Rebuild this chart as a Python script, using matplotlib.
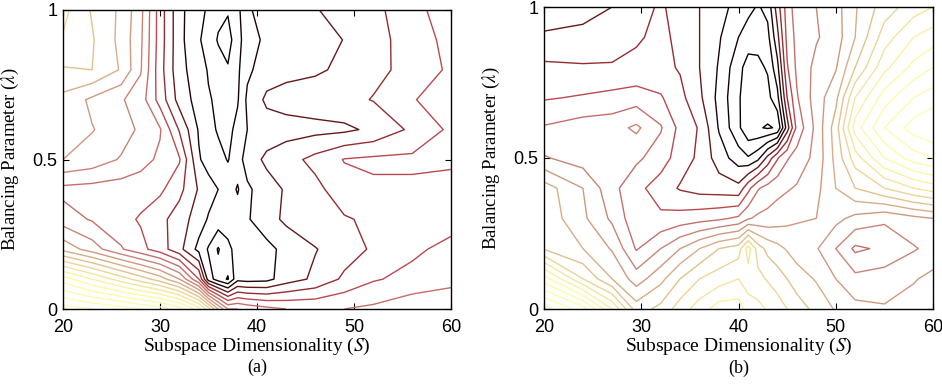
#!/usr/bin/env python3
# -*- coding: utf-8 -*-
"""
Contour maps of accuracy over subspace dimensionality S and balancing parameter lambda.
"""

import numpy as np
import matplotlib
matplotlib.use("Agg")
import matplotlib.pyplot as plt
from matplotlib.colors import LinearSegmentedColormap

plt.rcParams["font.family"] = "Liberation Sans"
plt.rcParams["mathtext.fontset"] = "stix"

# lambda grid (rows) shared by both panels
LAMBDA = [0.0, 0.1, 0.2, 0.3, 0.4, 0.5, 0.6, 0.7, 0.8, 0.9, 1.0]

# ---- panel (a) ----
S_A = [20, 23, 26, 28, 30, 32, 34, 35, 36, 37, 38, 39, 41, 43, 46, 49, 52, 56, 60]
Z_A = [
    [0.0, 0.5, 1.0, 1.5, 2.0, 3.0, 5.0, 7.0, 9.5, 11.5, 11.5, 11.8, 12.2, 12.5, 12.6, 12.5, 12.3, 11.8, 11.5],
    [4.0, 5.5, 7.0, 8.0, 9.0, 10.5, 13.5, 17.0, 18.0, 18.6, 16.8, 16.9, 16.8, 16.0, 15.3, 14.3, 13.6, 13.2, 12.9],
    [9.8, 11.0, 12.4, 13.2, 14.0, 15.2, 16.8, 17.6, 18.6, 17.7, 17.2, 17.2, 16.8, 16.2, 15.55, 15.0, 14.35, 13.7, 13.2],
    [12.0, 12.6, 13.2, 13.6, 14.2, 15.0, 16.0, 16.6, 16.9, 17.1, 17.0, 16.6, 15.9, 15.3, 14.9, 14.6, 14.3, 14.1, 13.9],
    [12.8, 12.9, 13.0, 13.1, 13.3, 14.2, 15.6, 16.1, 16.5, 17.0, 17.6, 16.7, 15.9, 15.4, 14.8, 13.9, 13.7, 13.7, 13.7],
    [10.5, 10.9, 11.6, 12.1, 12.7, 13.4, 16.4, 16.9, 17.2, 17.55, 17.0, 16.0, 15.3, 14.9, 14.2, 13.45, 13.3, 13.3, 13.4],
    [10.0, 10.45, 11.0, 11.7, 12.4, 14.6, 16.6, 17.2, 17.6, 17.8, 17.2, 16.5, 16.0, 15.9, 15.8, 15.7, 15.3, 14.3, 13.3],
    [9.8, 10.7, 11.4, 12.0, 13.9, 15.9, 16.9, 17.4, 17.7, 18.0, 17.6, 16.3, 15.3, 15.1, 14.95, 14.8, 14.45, 13.55, 13.1],
    [8.6, 8.5, 9.6, 11.4, 14.1, 16.2, 17.0, 17.6, 18.0, 18.4, 17.7, 16.7, 16.0, 15.8, 15.65, 15.3, 14.75, 14.2, 13.3],
    [7.6, 8.4, 9.8, 11.3, 14.0, 16.2, 17.4, 17.9, 18.6, 18.9, 17.9, 16.9, 16.3, 16.0, 15.8, 15.48, 14.9, 14.0, 13.2],
    [7.2, 8.6, 9.7, 11.2, 14.0, 16.2, 17.3, 17.6, 18.2, 18.4, 17.8, 16.6, 16.2, 15.9, 15.55, 15.2, 14.8, 13.8, 13.0],
]

# ---- panel (b) ----
S_B = [20, 24, 27, 29.5, 32, 34, 36, 38, 40, 41, 42, 43, 44, 45, 46, 48, 50, 52, 55, 58, 60]
Z_B = [
    [0.0, 2.0, 5.5, 9.0, 8.2, 7.0, 6.0, 5.0, 5.0, 6.0, 6.2, 6.6, 7.0, 7.5, 8.0, 8.8, 9.6, 10.2, 10.4, 10.0, 9.6],
    [4.0, 7.5, 9.5, 11.0, 9.8, 8.5, 7.5, 7.0, 6.5, 7.0, 7.2, 7.6, 8.0, 8.5, 9.0, 9.6, 10.5, 11.2, 11.0, 10.6, 10.2],
    [8.6, 9.5, 10.6, 12.6, 11.5, 10.5, 9.5, 8.5, 8.0, 6.0, 8.0, 8.8, 9.2, 9.6, 10.0, 10.4, 11.5, 12.7, 12.3, 11.6, 11.2],
    [8.8, 10.3, 11.7, 13.2, 13.3, 13.1, 12.9, 12.7, 12.3, 11.6, 11.3, 11.2, 11.0, 10.8, 10.6, 10.5, 10.2, 10.8, 11.3, 10.8, 10.5],
    [9.0, 10.5, 12.2, 13.2, 14.0, 14.6, 14.9, 15.0, 15.2, 13.8, 12.6, 12.1, 11.8, 11.6, 11.4, 10.8, 9.5, 8.5, 7.5, 6.5, 6.0],
    [11.4, 12.0, 12.2, 12.3, 13.0, 14.0, 14.7, 16.0, 17.0, 17.4, 16.8, 15.2, 13.6, 12.6, 12.1, 11.2, 9.2, 7.0, 4.5, 3.0, 2.5],
    [12.4, 12.0, 11.9, 11.3, 12.4, 13.8, 14.6, 16.6, 18.3, 19.3, 19.4, 19.6, 19.4, 16.0, 13.2, 11.2, 9.0, 5.0, 2.5, 1.0, 0.5],
    [13.6, 13.4, 13.2, 13.0, 13.4, 14.2, 15.3, 16.8, 18.4, 19.0, 19.2, 18.8, 17.8, 14.5, 12.6, 11.0, 9.8, 6.5, 4.0, 2.5, 2.0],
    [14.3, 14.4, 14.4, 14.3, 14.2, 14.6, 15.5, 16.6, 18.2, 18.9, 18.7, 18.4, 16.8, 13.6, 12.3, 11.2, 10.6, 8.5, 5.8, 4.2, 3.5],
    [15.3, 15.2, 15.0, 14.6, 14.3, 14.7, 15.5, 16.4, 17.5, 18.0, 18.2, 17.8, 15.8, 13.2, 12.2, 11.6, 11.0, 9.5, 7.0, 5.5, 5.0],
    [16.3, 15.9, 15.5, 14.8, 14.4, 14.8, 15.5, 16.2, 16.8, 17.2, 17.6, 17.2, 15.0, 13.0, 12.0, 11.5, 10.9, 9.6, 8.0, 7.0, 6.5],
]

X_TICKS = [20, 30, 40, 50, 60]
Y_TICKS = [0, 0.5, 1]
Y_TICKLABELS = ["0", "0.5", "1"]
X_LABEL = "Subspace Dimensionality ($S$)"
Y_LABEL = "Balancing Parameter ($\\lambda$)"
CAPTIONS = ["(a)", "(b)"]

# light yellow -> tan -> rose -> red -> maroon -> black
CMAP = LinearSegmentedColormap.from_list("ypk", [
    (0.000, (1.00, 1.00, 0.72)),
    (0.256, (0.99, 0.97, 0.66)),
    (0.360, (0.95, 0.87, 0.60)),
    (0.460, (0.87, 0.72, 0.54)),
    (0.560, (0.80, 0.56, 0.48)),
    (0.640, (0.78, 0.44, 0.42)),
    (0.690, (0.74, 0.30, 0.32)),
    (0.740, (0.60, 0.18, 0.20)),
    (0.795, (0.40, 0.10, 0.10)),
    (0.846, (0.10, 0.02, 0.02)),
    (1.000, (0.00, 0.00, 0.00)),
])
LEVELS = np.arange(0.5, 20.0, 1.0)


def draw_panel(ax, s, z, caption):
    ax.contour(s, LAMBDA, np.array(z), levels=LEVELS, cmap=CMAP,
               vmin=0, vmax=19.5, linewidths=1.0)
    ax.set_xlim(20, 60)
    ax.set_ylim(0, 1)
    ax.set_xticks(X_TICKS)
    ax.set_yticks(Y_TICKS)
    ax.set_yticklabels(Y_TICKLABELS)
    ax.tick_params(direction="in", top=True, right=True, length=4,
                   labelsize=13)
    ax.tick_params(axis="x", pad=7)
    ax.tick_params(axis="y", pad=4)
    for sp in ax.spines.values():
        sp.set_linewidth(1.0)
    ax.set_xlabel(X_LABEL, fontsize=14, family="Liberation Serif", labelpad=0)
    ax.set_ylabel(Y_LABEL, fontsize=13.5, family="Liberation Serif", labelpad=8)
    ax.text(0.5, -0.195, caption, transform=ax.transAxes, ha="center",
            va="center", fontsize=13, family="Liberation Serif")


def main():
    fig = plt.figure(figsize=(9.42, 3.87), dpi=100)
    W, H = 942.0, 387.0
    ax_a = fig.add_axes([63 / W, 78 / H, 388 / W, 299 / H])
    ax_b = fig.add_axes([544 / W, 78 / H, 389 / W, 302 / H])
    draw_panel(ax_a, S_A, Z_A, CAPTIONS[0])
    draw_panel(ax_b, S_B, Z_B, CAPTIONS[1])
    fig.savefig("out.png", dpi=100)


if __name__ == "__main__":
    main()
